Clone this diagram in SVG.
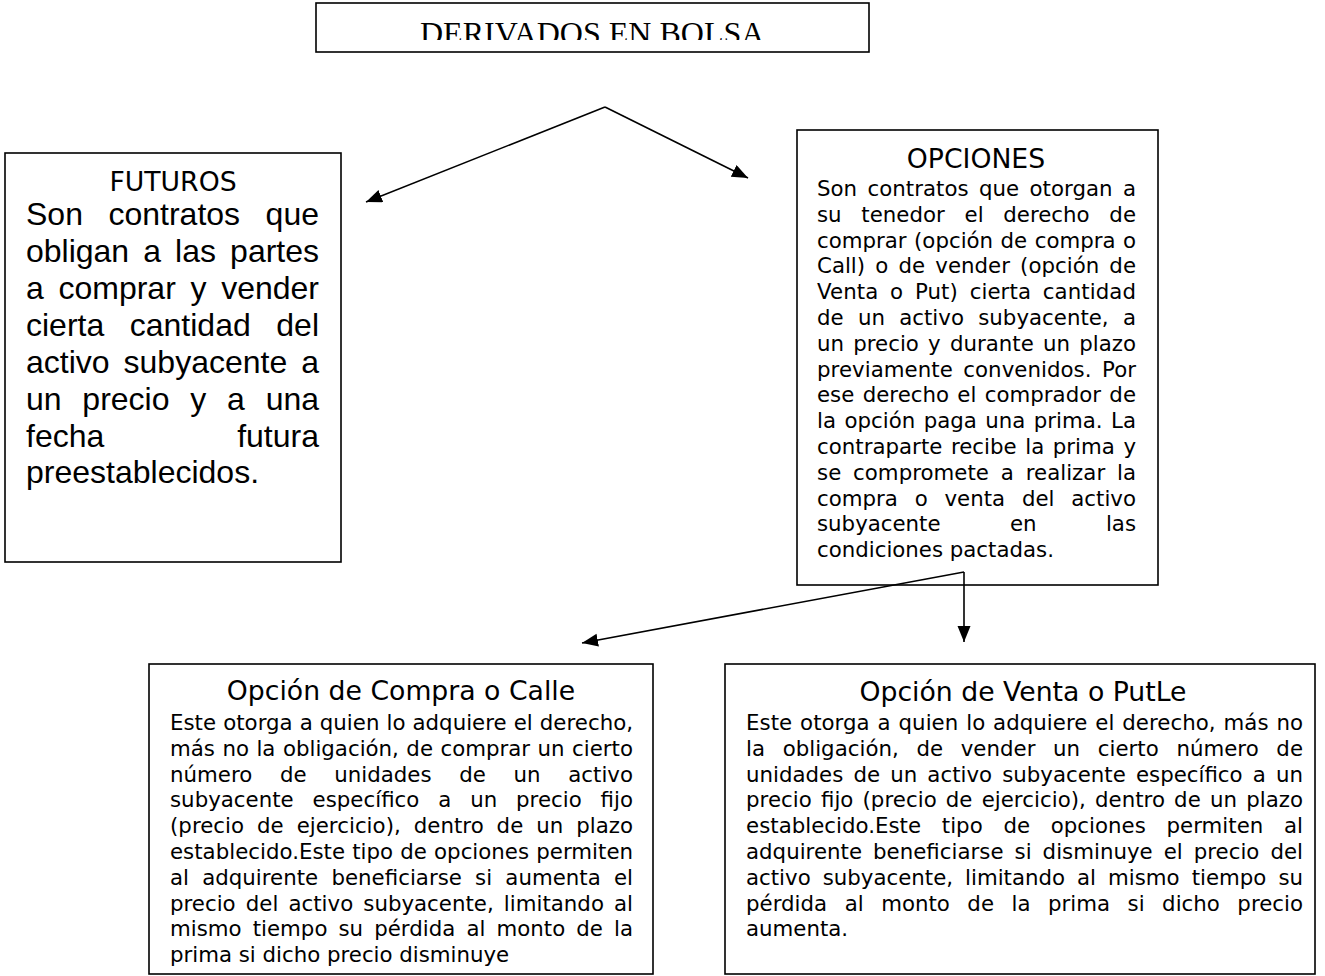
<svg xmlns="http://www.w3.org/2000/svg" width="1325" height="976" viewBox="0 0 1325 976">
<style>
  .box { fill: #fff; stroke: #000; stroke-width: 1.6; }
  .title { font-family: "Liberation Serif", "Times New Roman", serif; font-size: 32px; fill: #000; }
  .h { font-family: "DejaVu Sans", Verdana, sans-serif; font-size: 26.7px; text-anchor: middle; fill: #000; }
  .b { font-family: "DejaVu Sans", Verdana, sans-serif; font-size: 21.3px; fill: #000; }
  .f { font-family: "Liberation Sans", Arial, sans-serif; font-size: 32px; fill: #000; }
  .conn { fill: none; stroke: #000; stroke-width: 1.6; }
</style>
<defs>
  <marker id="arr" markerUnits="userSpaceOnUse" markerWidth="18" markerHeight="14" refX="16" refY="6.5" orient="auto">
    <path d="M0,0 L16,6.5 L0,13 z" fill="#000"/>
  </marker>
  <clipPath id="titleClip"><rect x="316" y="0" width="553" height="40"/></clipPath>
</defs>
<rect width="1325" height="976" fill="#fff"/>

<g id="title">
  <rect class="box" x="316" y="3" width="553" height="49"/>
  <text class="title" x="420" y="44" clip-path="url(#titleClip)">DERIVADOS EN BOLSA</text>
</g>

<g id="futuros">
  <rect class="box" x="5" y="153" width="336" height="409"/>
  <text class="h" x="173" y="191">FUTUROS</text>
  <text class="f" x="26" y="225" word-spacing="16.6" textLength="293">Son contratos que</text>
  <text class="f" x="26" y="262" word-spacing="5.2" textLength="293">obligan a las partes</text>
  <text class="f" x="26" y="299" word-spacing="5.8" textLength="293">a comprar y vender</text>
  <text class="f" x="26" y="336" word-spacing="16.7" textLength="293">cierta cantidad del</text>
  <text class="f" x="26" y="373" word-spacing="5.1" textLength="293">activo subyacente a</text>
  <text class="f" x="26" y="410" word-spacing="11.9" textLength="293">un precio y a una</text>
  <text class="f" x="26" y="447" word-spacing="124" textLength="293">fecha futura</text>
  <text class="f" x="26" y="483">preestablecidos.</text>
</g>

<g id="opciones">
  <rect class="box" x="797" y="130" width="361" height="455"/>
  <text class="h" x="976" y="168">OPCIONES</text>
  <text class="b" x="817" y="196" word-spacing="3.6" textLength="319">Son contratos que otorgan a</text>
  <text class="b" x="817" y="221.8" word-spacing="12.9" textLength="319">su tenedor el derecho de</text>
  <text class="b" x="817" y="247.6" word-spacing="0.7" textLength="319">comprar (opción de compra o</text>
  <text class="b" x="817" y="273.4" word-spacing="3.4" textLength="319">Call) o de vender (opción de</text>
  <text class="b" x="817" y="299.2" word-spacing="4.9" textLength="319">Venta o Put) cierta cantidad</text>
  <text class="b" x="817" y="325" word-spacing="7.5" textLength="319">de un activo subyacente, a</text>
  <text class="b" x="817" y="350.8" word-spacing="2.4" textLength="319">un precio y durante un plazo</text>
  <text class="b" x="817" y="376.6" word-spacing="3.6" textLength="319">previamente convenidos. Por</text>
  <text class="b" x="817" y="402.4" word-spacing="1.5" textLength="319">ese derecho el comprador de</text>
  <text class="b" x="817" y="428.2" word-spacing="1.7" textLength="319">la opción paga una prima. La</text>
  <text class="b" x="817" y="454" word-spacing="1.75" textLength="319">contraparte recibe la prima y</text>
  <text class="b" x="817" y="479.8" word-spacing="5" textLength="319">se compromete a realizar la</text>
  <text class="b" x="817" y="505.6" word-spacing="10" textLength="319">compra o venta del activo</text>
  <text class="b" x="817" y="531.4" word-spacing="62.6" textLength="319">subyacente en las</text>
  <text class="b" x="817" y="557.2">condiciones pactadas.</text>
</g>

<g id="compra">
  <rect class="box" x="149" y="664" width="504" height="310"/>
  <text class="h" x="401" y="700">Opción de Compra o Calle</text>
  <text class="b" x="170" y="730" word-spacing="0.2" textLength="463">Este otorga a quien lo adquiere el derecho,</text>
  <text class="b" x="170" y="755.8" word-spacing="0.7" textLength="463">más no la obligación, de comprar un cierto</text>
  <text class="b" x="170" y="781.6" word-spacing="20.9" textLength="463">número de unidades de un activo</text>
  <text class="b" x="170" y="807.4" word-spacing="12.1" textLength="463">subyacente específico a un precio fijo</text>
  <text class="b" x="170" y="833.2" word-spacing="6.1" textLength="463">(precio de ejercicio), dentro de un plazo</text>
  <text class="b" x="170" y="859" word-spacing="0.35" textLength="463">establecido.Este tipo de opciones permiten</text>
  <text class="b" x="170" y="884.8" word-spacing="6.4" textLength="463">al adquirente beneficiarse si aumenta el</text>
  <text class="b" x="170" y="910.6" word-spacing="3.3" textLength="463">precio del activo subyacente, limitando al</text>
  <text class="b" x="170" y="936.4" word-spacing="4.3" textLength="463">mismo tiempo su pérdida al monto de la</text>
  <text class="b" x="170" y="962.2">prima si dicho precio disminuye</text>
</g>

<g id="venta">
  <rect class="box" x="725" y="664" width="590" height="310"/>
  <text class="h" x="1023" y="701">Opción de Venta o PutLe</text>
  <text class="b" x="746" y="730" word-spacing="1.1" textLength="557">Este otorga a quien lo adquiere el derecho, más no</text>
  <text class="b" x="746" y="755.8" word-spacing="10.9" textLength="557">la obligación, de vender un cierto número de</text>
  <text class="b" x="746" y="781.6" word-spacing="3.4" textLength="557">unidades de un activo subyacente específico a un</text>
  <text class="b" x="746" y="807.4" word-spacing="2.3" textLength="557">precio fijo (precio de ejercicio), dentro de un plazo</text>
  <text class="b" x="746" y="833.2" word-spacing="13.9" textLength="557">establecido.Este tipo de opciones permiten al</text>
  <text class="b" x="746" y="859" word-spacing="4.2" textLength="557">adquirente beneficiarse si disminuye el precio del</text>
  <text class="b" x="746" y="884.8" word-spacing="5.3" textLength="557">activo subyacente, limitando al mismo tiempo su</text>
  <text class="b" x="746" y="910.6" word-spacing="10.7" textLength="557">pérdida al monto de la prima si dicho precio</text>
  <text class="b" x="746" y="936.4">aumenta.</text>
</g>

<g id="connectors">
  <line class="conn" x1="605" y1="107" x2="366" y2="202" marker-end="url(#arr)"/>
  <line class="conn" x1="605" y1="107" x2="748" y2="178" marker-end="url(#arr)"/>
  <line class="conn" x1="964" y1="572" x2="582" y2="643" marker-end="url(#arr)"/>
  <line class="conn" x1="964" y1="572" x2="964" y2="642" marker-end="url(#arr)"/>
</g>
</svg>
